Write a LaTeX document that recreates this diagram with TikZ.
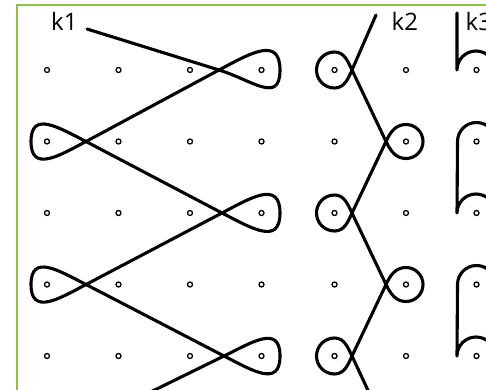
\documentclass[tikz,border=0pt]{standalone}
\usepackage{fontspec}
\setmainfont{Open Sans}
\definecolor{framegreen}{RGB}{141,194,63}
\begin{document}
\begin{tikzpicture}[x=1pt,y=1pt,
  knot/.style={line width=3.1pt, line join=round, line cap=round},
  dot/.style={circle, draw, line width=1.3pt, minimum size=5pt, inner sep=0pt, fill=white},
  lab/.style={anchor=base west, inner sep=0pt, font=\fontsize{24}{24}\selectfont}]
\useasboundingbox (0,0) rectangle (486,389);
\clip (0,0) rectangle (486,389);
\draw[framegreen, line width=2pt] (17,-20) -- (17,384) -- (520,384);
% grid of dots
\foreach \x [count=\i] in {47,118.5,190,261.5,334.5,406,476.5}
  \foreach \y [count=\j] in {319,247.5,176,104.5,33}
    \node[dot] (d\i\j) at (\x,\y) {};
% labels
\node[lab] (k1) at (51,358) {k1};
\node[lab] (k2) at (391.5,358) {k2};
\node[lab] (k3) at (465.5,358) {k3};
% crossing points of k1
\coordinate (s1) at (87,360);
\coordinate (C1) at (219,319);
\coordinate (C2) at (86,247.5);
\coordinate (C3) at (222,176);
\coordinate (C4) at (86,104.5);
\coordinate (C5) at (224,33);
\coordinate (e1) at (120,-18);
\draw[knot] (s1) -- (C1)
  to[out=-17,in=-90,looseness=1.45] (280,319) to[out=90,in=28,looseness=1.45] (C1) -- (C2)
  to[out=208,in=-90,looseness=1.45] (31,247.5) to[out=90,in=153,looseness=1.45] (C2) -- (C3)
  to[out=-27,in=-90,looseness=1.45] (280,176) to[out=90,in=28,looseness=1.45] (C3) -- (C4)
  to[out=208,in=-90,looseness=1.45] (31,104.5) to[out=90,in=153,looseness=1.45] (C4) -- (C5)
  to[out=-27,in=-90,looseness=1.45] (280,33) to[out=90,in=26,looseness=1.45] (C5) -- (e1);
% k2
\coordinate (s2) at (376,374);
\coordinate (K1) at (352,319);
\coordinate (K2) at (386,247.5);
\coordinate (K3) at (352,176);
\coordinate (K4) at (386,104.5);
\coordinate (K5) at (352,33);
\coordinate (e2) at (372,-10);
\draw[knot] (s2) -- (K1)
  to[out=246,in=0] (334.5,301) to[out=180,in=-90] (316.5,319) to[out=90,in=180] (334.5,337) to[out=0,in=116] (K1) -- (K2)
  to[out=-64,in=180] (406,230.5) to[out=0,in=-90] (423,247.5) to[out=90,in=0] (406,264.5) to[out=180,in=66] (K2) -- (K3)
  to[out=246,in=0] (334.5,158) to[out=180,in=-90] (316.5,176) to[out=90,in=180] (334.5,194) to[out=0,in=116] (K3) -- (K4)
  to[out=-64,in=180] (406,87.5) to[out=0,in=-90] (423,104.5) to[out=90,in=0] (406,121.5) to[out=180,in=66] (K4) -- (K5)
  to[out=246,in=0] (334.5,15) to[out=180,in=-90] (316.5,33) to[out=90,in=180] (334.5,51) to[out=0,in=116] (K5) -- (e2);
% k3
\coordinate (s3) at (457,376);
\draw[knot] (s3) -- (457,319) arc[start angle=180,end angle=0,radius=19];
\draw[knot] (495.5,247.5) arc[start angle=0,end angle=180,radius=19] -- (457,176) arc[start angle=180,end angle=0,radius=19];
\draw[knot] (495.5,104.5) arc[start angle=0,end angle=180,radius=19] -- (457,33) arc[start angle=180,end angle=0,radius=19];
\end{tikzpicture}
\end{document}
